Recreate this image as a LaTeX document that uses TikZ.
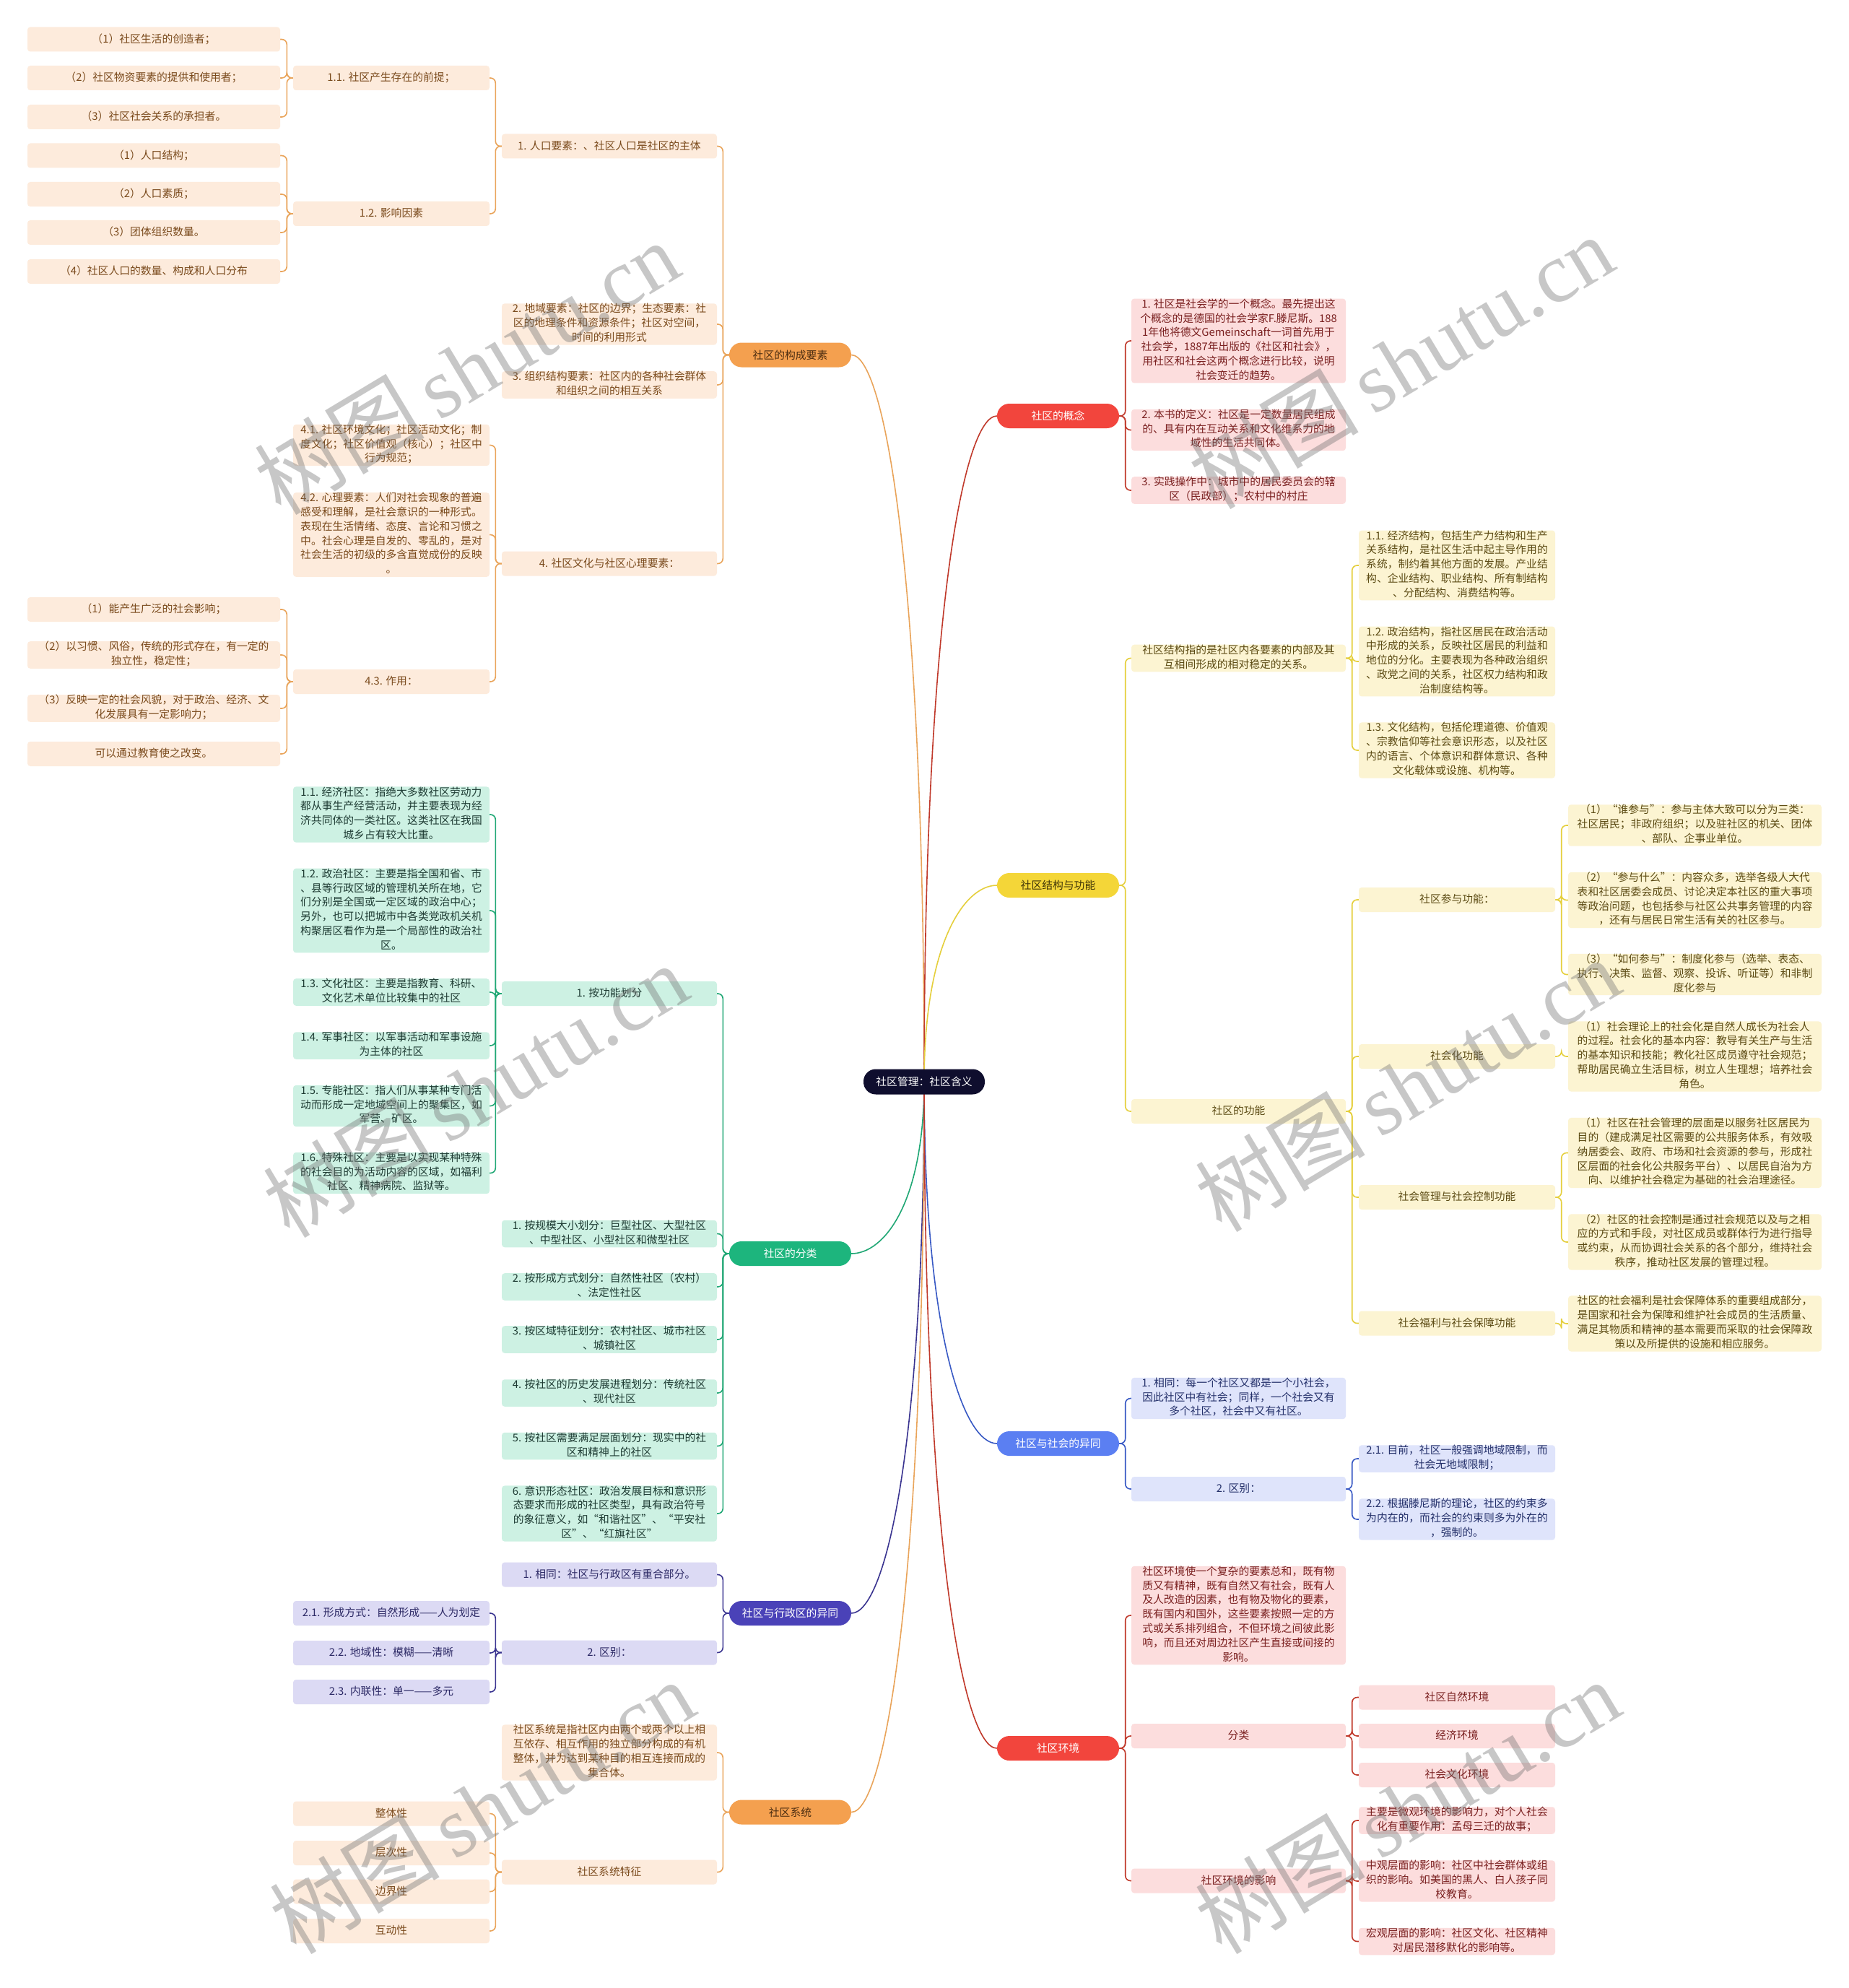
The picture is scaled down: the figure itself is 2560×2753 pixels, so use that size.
\documentclass[tikz,border=0pt]{standalone}
\usepackage{fontspec}
\setmainfont{Noto Sans CJK SC}
\newfontfamily\wmlatin{Liberation Serif}
\usetikzlibrary{backgrounds,calc}
\definecolor{oMain}{HTML}{F4A04F}\definecolor{oMainText}{HTML}{4A2C10}
\definecolor{oFill}{HTML}{FDEBDC}\definecolor{oText}{HTML}{7A4A1C}\definecolor{oLine}{HTML}{E9A45A}
\definecolor{gMain}{HTML}{1DB57D}\definecolor{gFill}{HTML}{CDF1E3}\definecolor{gText}{HTML}{1E3B33}\definecolor{gLine}{HTML}{1FA774}
\definecolor{pMain}{HTML}{4A42B8}\definecolor{pFill}{HTML}{DCDAF4}\definecolor{pText}{HTML}{2D2A66}\definecolor{pLine}{HTML}{3A3490}
\definecolor{rMain}{HTML}{F2453D}\definecolor{rFill}{HTML}{FCDDDD}\definecolor{rText}{HTML}{7A2020}\definecolor{rLine}{HTML}{C0392B}
\definecolor{yMain}{HTML}{F4D638}\definecolor{yMainText}{HTML}{3F3508}\definecolor{yFill}{HTML}{FCF4D2}\definecolor{yText}{HTML}{5C4B14}\definecolor{yLine}{HTML}{E5CF3C}
\definecolor{bMain}{HTML}{5B7FF2}\definecolor{bFill}{HTML}{DFE4FB}\definecolor{bText}{HTML}{24306A}\definecolor{bLine}{HTML}{3859C4}
\definecolor{rootC}{HTML}{0F0E2E}
\newcommand{\nf}{\fontsize{14.8}{19.8}\selectfont}
\newcommand{\zs}{\rule[-5.2pt]{0pt}{19.8pt}}
\newcommand{\lconn}[3]{\draw[#1] (#2.west) -- ++(-8.5,0) |- (#3.east);}
\newcommand{\rconn}[3]{\draw[#1] (#2.east) -- ++(8.5,0) |- (#3.west);}
\begin{document}
\begin{tikzpicture}[x=1pt,y=-1pt,
  every node/.style={font=\nf},
  box/.style={rounded corners=4pt, inner xsep=5pt, inner ysep=0pt, align=center, minimum height=34pt,
     execute at begin node=\zs, execute at end node=\zs},
  wA/.style={minimum width=350pt}, wB/.style={minimum width=272pt}, wC/.style={minimum width=298pt},
  wD/.style={minimum width=297pt}, wE/.style={minimum width=272pt}, wF/.style={minimum width=351pt},
  osub/.style={box, fill=oFill, text=oText},
  gsub/.style={box, fill=gFill, text=gText},
  psub/.style={box, fill=pFill, text=pText},
  rsub/.style={box, fill=rFill, text=rText},
  ysub/.style={box, fill=yFill, text=yText},
  bsub/.style={box, fill=bFill, text=bText},
  mainN/.style={rounded corners=17pt, minimum width=169pt, minimum height=34pt, inner sep=0pt, align=center},
  oline/.style={draw=oLine, line width=1.6pt, rounded corners=7pt},
  gline/.style={draw=gLine, line width=1.6pt, rounded corners=7pt},
  pline/.style={draw=pLine, line width=1.6pt, rounded corners=7pt},
  rline/.style={draw=rLine, line width=1.6pt, rounded corners=7pt},
  yline/.style={draw=yLine, line width=1.6pt, rounded corners=7pt},
  bline/.style={draw=bLine, line width=1.6pt, rounded corners=7pt},
  rcurve/.style={line width=1.6pt},
  wm/.style={rotate=31, opacity=0.4, text=black!55, inner sep=0pt}
]
\begin{scope}[on background layer]
\fill[white] (0,0) rectangle (2560,2753);
\end{scope}
\useasboundingbox (0,0) rectangle (2560,2753);

% root
\node[mainN, fill=rootC, text=white, minimum width=168pt, minimum height=35pt] (RT) at (1280,1498) {社区管理：社区含义};

% ===== orange: 社区的构成要素
\node[mainN, fill=oMain, text=oMainText] (O) at (1094.5,491.5) {社区的构成要素};
\node[osub,wC] (o1) at (844,202.5) {1. 人口要素：、社区人口是社区的主体};
\node[osub,wC] (o2) at (844,449) {2. 地域要素：社区的边界；生态要素：社\\区的地理条件和资源条件；社区对空间，\\时间的利用形式};
\node[osub,wC] (o3) at (844,533) {3. 组织结构要素：社区内的各种社会群体\\和组织之间的相互关系};
\node[osub,wC] (o4) at (844,780.5) {4. 社区文化与社区心理要素：};
\node[osub,wB] (b11) at (542,108) {1.1. 社区产生存在的前提；};
\node[osub,wB] (b12) at (542,296) {1.2. 影响因素};
\node[osub,wA] (a1) at (213,54.5) {（1）社区生活的创造者；};
\node[osub,wA] (a2) at (213,108) {（2）社区物资要素的提供和使用者；};
\node[osub,wA] (a3) at (213,162) {（3）社区社会关系的承担者。};
\node[osub,wA] (a4) at (213,215.5) {（1）人口结构；};
\node[osub,wA] (a5) at (213,269) {（2）人口素质；};
\node[osub,wA] (a6) at (213,322) {（3）团体组织数量。};
\node[osub,wA] (a7) at (213,376) {（4）社区人口的数量、构成和人口分布};
\node[osub,wB] (b41) at (542,616.5) {4.1. 社区环境文化；社区活动文化；制\\度文化；社区价值观（核心）；社区中\\行为规范；};
\node[osub,wB] (b42) at (542,740.5) {4.2. 心理要素：人们对社会现象的普遍\\感受和理解，是社会意识的一种形式。\\表现在生活情绪、态度、言论和习惯之\\中。社会心理是自发的、零乱的，是对\\社会生活的初级的多含直觉成份的反映\\。};
\node[osub,wB] (b43) at (542,944) {4.3. 作用：};
\node[osub,wA] (c1) at (213,844) {（1）能产生广泛的社会影响；};
\node[osub,wA] (c2) at (213,907) {（2）以习惯、风俗，传统的形式存在，有一定的\\独立性，稳定性；};
\node[osub,wA] (c3) at (213,981) {（3）反映一定的社会风貌，对于政治、经济、文\\化发展具有一定影响力；};
\node[osub,wA] (c4) at (213,1044) {可以通过教育使之改变。};

% ===== green: 社区的分类
\node[mainN, fill=gMain, text=white] (G) at (1094.5,1736) {社区的分类};
\node[gsub,wC] (g1) at (844,1376) {1. 按功能划分};
\node[gsub,wB] (g11) at (542,1128) {1.1. 经济社区：指绝大多数社区劳动力\\都从事生产经营活动，并主要表现为经\\济共同体的一类社区。这类社区在我国\\城乡占有较大比重。};
\node[gsub,wB] (g12) at (542,1261) {1.2. 政治社区：主要是指全国和省、市\\、县等行政区域的管理机关所在地，它\\们分别是全国或一定区域的政治中心；\\另外，也可以把城市中各类党政机关机\\构聚居区看作为是一个局部性的政治社\\区。};
\node[gsub,wB] (g13) at (542,1374) {1.3. 文化社区：主要是指教育、科研、\\文化艺术单位比较集中的社区};
\node[gsub,wB] (g14) at (542,1448) {1.4. 军事社区：以军事活动和军事设施\\为主体的社区};
\node[gsub,wB] (g15) at (542,1531.5) {1.5. 专能社区：指人们从事某种专门活\\动而形成一定地域空间上的聚集区，如\\军营、矿区。};
\node[gsub,wB] (g16) at (542,1624.5) {1.6. 特殊社区：主要是以实现某种特殊\\的社会目的为活动内容的区域，如福利\\社区、精神病院、监狱等。};
\node[gsub,wC] (g2) at (844,1708.5) {1. 按规模大小划分：巨型社区、大型社区\\、中型社区、小型社区和微型社区};
\node[gsub,wC] (g3) at (844,1782) {2. 按形成方式划分：自然性社区（农村）\\、法定性社区};
\node[gsub,wC] (g4) at (844,1855) {3. 按区域特征划分：农村社区、城市社区\\、城镇社区};
\node[gsub,wC] (g5) at (844,1929) {4. 按社区的历史发展进程划分：传统社区\\、现代社区};
\node[gsub,wC] (g6) at (844,2002.5) {5. 按社区需要满足层面划分：现实中的社\\区和精神上的社区};
\node[gsub,wC] (g7) at (844,2096) {6. 意识形态社区：政治发展目标和意识形\\态要求而形成的社区类型，具有政治符号\\的象征意义，如“和谐社区”、“平安社\\区”、“红旗社区”};

% ===== purple: 社区与行政区的异同
\node[mainN, fill=pMain, text=white] (P) at (1094.5,2234) {社区与行政区的异同};
\node[psub,wC] (p1) at (844,2180.5) {1. 相同：社区与行政区有重合部分。};
\node[psub,wC] (p2) at (844,2288.5) {2. 区别：};
\node[psub,wB] (p21) at (542,2234) {2.1. 形成方式：自然形成——人为划定};
\node[psub,wB] (p22) at (542,2289) {2.2. 地域性：模糊——清晰};
\node[psub,wB] (p23) at (542,2343) {2.3. 内联性：单一——多元};

% ===== orange: 社区系统
\node[mainN, fill=oMain, text=oMainText] (S) at (1094.5,2509.5) {社区系统};
\node[osub,wC] (s1) at (844,2427) {社区系统是指社区内由两个或两个以上相\\互依存、相互作用的独立部分构成的有机\\整体，并为达到某种目的相互连接而成的\\集合体。};
\node[osub,wC] (s2) at (844,2592.5) {社区系统特征};
\node[osub,wB] (s21) at (542,2511.5) {整体性};
\node[osub,wB] (s22) at (542,2566) {层次性};
\node[osub,wB] (s23) at (542,2619.5) {边界性};
\node[osub,wB] (s24) at (542,2674) {互动性};

% ===== red: 社区的概念
\node[mainN, fill=rMain, text=white] (R) at (1465.5,576) {社区的概念};
\node[rsub,wD] (r1) at (1715.5,472) {1. 社区是社会学的一个概念。最先提出这\\个概念的是德国的社会学家F.滕尼斯。188\\1年他将德文Gemeinschaft一词首先用于\\社会学，1887年出版的《社区和社会》，\\用社区和社会这两个概念进行比较，说明\\社会变迁的趋势。};
\node[rsub,wD] (r2) at (1715.5,595.5) {2. 本书的定义：社区是一定数量居民组成\\的、具有内在互动关系和文化维系力的地\\域性的生活共同体。};
\node[rsub,wD] (r3) at (1715.5,679) {3. 实践操作中：城市中的居民委员会的辖\\区（民政部）；农村中的村庄};

% ===== yellow: 社区结构与功能
\node[mainN, fill=yMain, text=yMainText] (Y) at (1465.5,1226) {社区结构与功能};
\node[ysub,wD] (y1) at (1715.5,911.5) {社区结构指的是社区内各要素的内部及其\\互相间形成的相对稳定的关系。};
\node[ysub,wE] (y11) at (2018,783) {1.1. 经济结构，包括生产力结构和生产\\关系结构，是社区生活中起主导作用的\\系统，制约着其他方面的发展。产业结\\构、企业结构、职业结构、所有制结构\\、分配结构、消费结构等。};
\node[ysub,wE] (y12) at (2018,916) {1.2. 政治结构，指社区居民在政治活动\\中形成的关系，反映社区居民的利益和\\地位的分化。主要表现为各种政治组织\\、政党之间的关系，社区权力结构和政\\治制度结构等。};
\node[ysub,wE] (y13) at (2018,1039) {1.3. 文化结构，包括伦理道德、价值观\\、宗教信仰等社会意识形态，以及社区\\内的语言、个体意识和群体意识、各种\\文化载体或设施、机构等。};
\node[ysub,wD] (y2) at (1715.5,1539) {社区的功能};
\node[ysub,wE] (y21) at (2018,1246) {社区参与功能：};
\node[ysub,wF] (y211) at (2347.5,1143) {（1）“谁参与”：参与主体大致可以分为三类：\\社区居民；非政府组织；以及驻社区的机关、团体\\、部队、企事业单位。};
\node[ysub,wF] (y212) at (2347.5,1246.5) {（2）“参与什么”：内容众多，选举各级人大代\\表和社区居委会成员、讨论决定本社区的重大事项\\等政治问题，也包括参与社区公共事务管理的内容\\，还有与居民日常生活有关的社区参与。};
\node[ysub,wF] (y213) at (2347.5,1349.5) {（3）“如何参与”：制度化参与（选举、表态、\\执行、决策、监督、观察、投诉、听证等）和非制\\度化参与};
\node[ysub,wE] (y22) at (2018,1463) {社会化功能};
\node[ysub,wF] (y221) at (2347.5,1463) {（1）社会理论上的社会化是自然人成长为社会人\\的过程。社会化的基本内容：教导有关生产与生活\\的基本知识和技能；教化社区成员遵守社会规范；\\帮助居民确立生活目标，树立人生理想；培养社会\\角色。};
\node[ysub,wE] (y23) at (2018,1658) {社会管理与社会控制功能};
\node[ysub,wF] (y231) at (2347.5,1596.5) {（1）社区在社会管理的层面是以服务社区居民为\\目的（建成满足社区需要的公共服务体系，有效吸\\纳居委会、政府、市场和社会资源的参与，形成社\\区层面的社会化公共服务平台）、以居民自治为方\\向、以维护社会稳定为基础的社会治理途径。};
\node[ysub,wF] (y232) at (2347.5,1720) {（2）社区的社会控制是通过社会规范以及与之相\\应的方式和手段，对社区成员或群体行为进行指导\\或约束，从而协调社会关系的各个部分，维持社会\\秩序，推动社区发展的管理过程。};
\node[ysub,wE] (y24) at (2018,1832.5) {社会福利与社会保障功能};
\node[ysub,wF] (y241) at (2347.5,1833) {社区的社会福利是社会保障体系的重要组成部分，\\是国家和社会为保障和维护社会成员的生活质量、\\满足其物质和精神的基本需要而采取的社会保障政\\策以及所提供的设施和相应服务。};

% ===== blue: 社区与社会的异同
\node[mainN, fill=bMain, text=white] (B) at (1465.5,1999) {社区与社会的异同};
\node[bsub,wD] (bl1) at (1715.5,1936.5) {1. 相同：每一个社区又都是一个小社会，\\因此社区中有社会；同样，一个社会又有\\多个社区，社会中又有社区。};
\node[bsub,wD] (bl2) at (1715.5,2062) {2. 区别：};
\node[bsub,wE] (bl21) at (2018,2020) {2.1. 目前，社区一般强调地域限制，而\\社会无地域限制；};
\node[bsub,wE] (bl22) at (2018,2104) {2.2. 根据滕尼斯的理论，社区的约束多\\为内在的，而社会的约束则多为外在的\\，强制的。};

% ===== red: 社区环境
\node[mainN, fill=rMain, text=white] (E) at (1465.5,2421) {社区环境};
\node[rsub,wD] (e1) at (1715.5,2237) {社区环境使一个复杂的要素总和，既有物\\质又有精神，既有自然又有社会，既有人\\及人改造的因素，也有物及物化的要素，\\既有国内和国外，这些要素按照一定的方\\式或关系排列组合，不但环境之间彼此影\\响，而且还对周边社区产生直接或间接的\\影响。};
\node[rsub,wD] (e2) at (1715.5,2404) {分类};
\node[rsub,wE] (e21) at (2018,2350.5) {社区自然环境};
\node[rsub,wE] (e22) at (2018,2404) {经济环境};
\node[rsub,wE] (e23) at (2018,2458) {社会文化环境};
\node[rsub,wD] (e3) at (1715.5,2604.5) {社区环境的影响};
\node[rsub,wE] (e31) at (2018,2521) {主要是微观环境的影响力，对个人社会\\化有重要作用：孟母三迁的故事；};
\node[rsub,wE] (e32) at (2018,2605) {中观层面的影响：社区中社会群体或组\\织的影响。如美国的黑人、白人孩子同\\校教育。};
\node[rsub,wE] (e33) at (2018,2688.5) {宏观层面的影响：社区文化、社区精神\\对居民潜移默化的影响等。};

% ===== connectors
\begin{scope}[on background layer]
\draw[rcurve, oLine] (RT.center) .. controls (1280,793) and (1225,491.5) .. (O.east);
\draw[rcurve, gLine] (RT.center) .. controls (1280,1665) and (1225,1736) .. (G.east);
\draw[rcurve, pLine] (RT.center) .. controls (1280,2013) and (1225,2234) .. (P.east);
\draw[rcurve, oLine] (RT.center) .. controls (1280,2206) and (1225,2509.5) .. (S.east);
\draw[rcurve, rLine] (RT.center) .. controls (1280,852) and (1335,576) .. (R.west);
\draw[rcurve, yLine] (RT.center) .. controls (1280,1308) and (1335,1226) .. (Y.west);
\draw[rcurve, bLine] (RT.center) .. controls (1280,1849) and (1335,1999) .. (B.west);
\draw[rcurve, rLine] (RT.center) .. controls (1280,2144) and (1335,2421) .. (E.west);

\foreach \c in {o1,o2,o3,o4} {\lconn{oline}{O}{\c}}
\foreach \c in {b11,b12} {\lconn{oline}{o1}{\c}}
\foreach \c in {a1,a2,a3} {\lconn{oline}{b11}{\c}}
\foreach \c in {a4,a5,a6,a7} {\lconn{oline}{b12}{\c}}
\foreach \c in {b41,b42,b43} {\lconn{oline}{o4}{\c}}
\foreach \c in {c1,c2,c3,c4} {\lconn{oline}{b43}{\c}}
\foreach \c in {g1,g2,g3,g4,g5,g6,g7} {\lconn{gline}{G}{\c}}
\foreach \c in {g11,g12,g13,g14,g15,g16} {\lconn{gline}{g1}{\c}}
\foreach \c in {p1,p2} {\lconn{pline}{P}{\c}}
\foreach \c in {p21,p22,p23} {\lconn{pline}{p2}{\c}}
\foreach \c in {s1,s2} {\lconn{oline}{S}{\c}}
\foreach \c in {s21,s22,s23,s24} {\lconn{oline}{s2}{\c}}
\foreach \c in {r1,r2,r3} {\rconn{rline}{R}{\c}}
\foreach \c in {y1,y2} {\rconn{yline}{Y}{\c}}
\foreach \c in {y11,y12,y13} {\rconn{yline}{y1}{\c}}
\foreach \c in {y21,y22,y23,y24} {\rconn{yline}{y2}{\c}}
\foreach \c in {y211,y212,y213} {\rconn{yline}{y21}{\c}}
\rconn{yline}{y22}{y221}
\foreach \c in {y231,y232} {\rconn{yline}{y23}{\c}}
\rconn{yline}{y24}{y241}
\foreach \c in {bl1,bl2} {\rconn{bline}{B}{\c}}
\foreach \c in {bl21,bl22} {\rconn{bline}{bl2}{\c}}
\foreach \c in {e1,e2,e3} {\rconn{rline}{E}{\c}}
\foreach \c in {e21,e22,e23} {\rconn{rline}{e2}{\c}}
\foreach \c in {e31,e32,e33} {\rconn{rline}{e3}{\c}}
\end{scope}

% ===== watermarks
\foreach \n/\x/\y in {w1/646/509, w2/658/1510, w3/667/2502, w4/1940/501, w5/1949/1502, w6/1949/2502} {
  \node[wm] (\n) at (\x,\y) {\fontsize{118}{118}\selectfont 树图\,{\wmlatin shutu.cn}};
}
\end{tikzpicture}
\end{document}
